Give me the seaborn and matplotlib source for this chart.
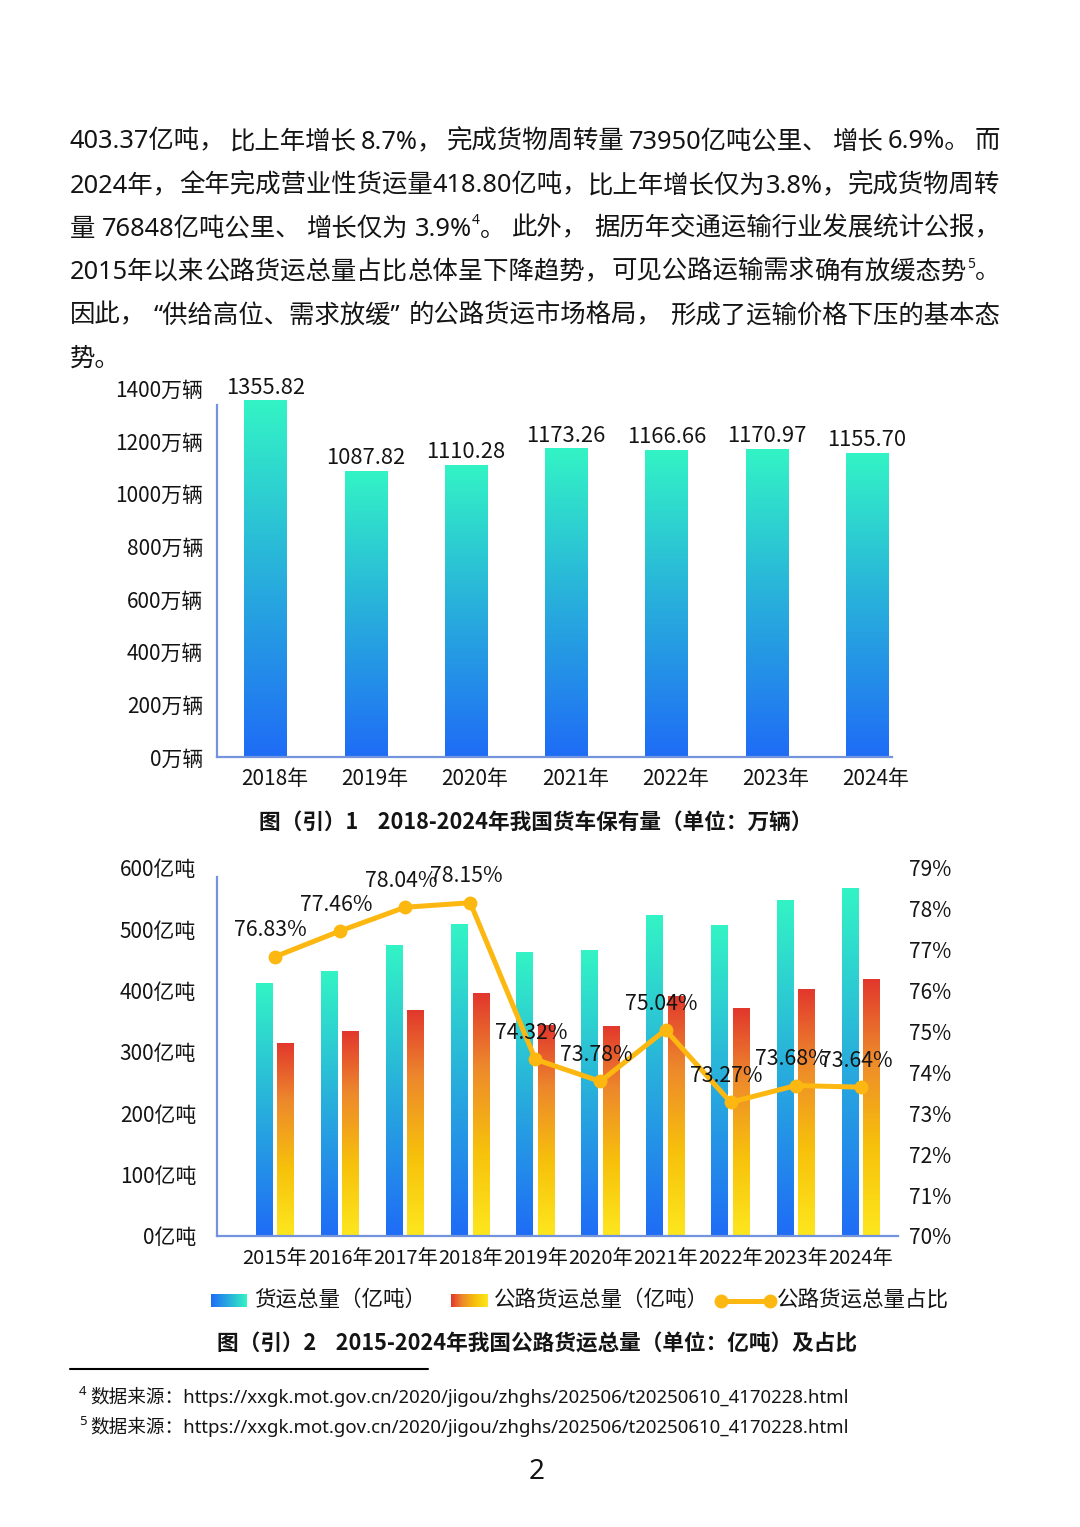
import numpy as np
import pandas as pd
import matplotlib.pyplot as plt
import seaborn as sns
from matplotlib.colors import LinearSegmentedColormap
from matplotlib.transforms import ScaledTranslation

sns.set_style("white")
plt.rcParams['font.family'] = ['Noto Sans CJK SC', 'DejaVu Sans']
plt.rcParams['axes.unicode_minus'] = False
MIXED = ['Noto Sans', 'Noto Sans CJK SC', 'DejaVu Sans']

# ---- dane ----
truck_years = ['2018年', '2019年', '2020年', '2021年', '2022年', '2023年', '2024年']
truck_stock = [1355.82, 1087.82, 1110.28, 1173.26, 1166.66, 1170.97, 1155.70]

freight_years = ['2015年', '2016年', '2017年', '2018年', '2019年',
                 '2020年', '2021年', '2022年', '2023年', '2024年']
freight_total = [412, 432, 474, 508, 463, 466, 523, 507, 548, 568]
freight_road = [315.00, 334.13, 368.69, 395.69, 343.55, 342.64, 391.39, 371.19, 403.37, 418.80]
road_share = [76.83, 77.46, 78.04, 78.15, 74.32, 73.78, 75.04, 73.27, 73.68, 73.64]

truck_ticks = list(range(0, 1401, 200))
ton_ticks = list(range(0, 601, 100))
pct_ticks = list(range(70, 80))

# ---- kolory ----
TEXT = '#141414'
SPINE = '#7393dd'
LINE = '#fcb711'
blue_cmap = LinearSegmentedColormap.from_list('blue', ['#1f6cf6', '#28aedc', '#33f4c5'])
orange_cmap = LinearSegmentedColormap.from_list(
    'orange', [(0, '#fde71e'), (0.35, '#f7c10b'), (0.7, '#ed882c'), (1, '#e2372d')])

W, H = 1080, 1527
fig = plt.figure(figsize=(W / 100, H / 100), dpi=100)
fig.patch.set_facecolor('white')


def box(x0, y0, x1, y1):
    return [x0 / W, 1 - y1 / H, (x1 - x0) / W, (y1 - y0) / H]


def gradient_bars(ax, cmap_for):
    grad = np.linspace(0, 1, 256).reshape(-1, 1)
    for p in list(ax.patches):
        cmap = cmap_for(p)
        x0, y0, w, h = p.get_x(), p.get_y(), p.get_width(), p.get_height()
        p.set_facecolor('none')
        p.set_edgecolor('none')
        im = ax.imshow(grad, extent=[x0, x0 + w, y0, y0 + h], origin='lower',
                       aspect='auto', cmap=cmap, interpolation='bicubic', zorder=2)
        im.set_clip_path(p)


def style_axis(ax, ybounds):
    for s in ['top', 'right']:
        ax.spines[s].set_visible(False)
    for s in ['left', 'bottom']:
        ax.spines[s].set_color(SPINE)
        ax.spines[s].set_linewidth(1.6)
    ax.spines['left'].set_bounds(*ybounds)
    ax.set_xlabel('')
    ax.set_ylabel('')
    ax.grid(False)


# ---- wykres 1: 货车保有量 ----
ax1 = fig.add_axes(box(217, 388.4, 892, 757))
df1 = pd.DataFrame({'年份': truck_years, '保有量': truck_stock})
sns.barplot(data=df1, x='年份', y='保有量', ax=ax1, color='#1f6cf6',
            width=0.42, saturation=1, errorbar=None)
ax1.bar_label(ax1.containers[0], fmt='%.2f', padding=1, fontsize=15.8, color=TEXT)
gradient_bars(ax1, lambda p: blue_cmap)
ax1.set_xlim(-0.484, 6.25)
ax1.set_ylim(0, 1400)
ax1.set_yticks(truck_ticks)
ax1.set_yticklabels([f'{v}万辆' for v in truck_ticks])
style_axis(ax1, (0, 1337))
ax1.tick_params(axis='both', length=0, labelsize=15, labelcolor=TEXT)
ax1.tick_params(axis='y', pad=10)
ax1.tick_params(axis='x', pad=8)
shift = ScaledTranslation(0.09, 0, fig.dpi_scale_trans)
for lab in ax1.get_xticklabels():
    lab.set_transform(lab.get_transform() + shift)

# ---- wykres 2: 货运总量 ----
ax2 = fig.add_axes(box(217, 868, 898, 1236))
df2 = pd.DataFrame({
    '年份': freight_years * 2,
    '货运量': freight_total + freight_road,
    '类别': ['货运总量（亿吨）'] * len(freight_years) + ['公路货运总量（亿吨）'] * len(freight_years),
})
sns.barplot(data=df2, x='年份', y='货运量', hue='类别', ax=ax2,
            palette={'货运总量（亿吨）': '#1f6cf6', '公路货运总量（亿吨）': '#e2372d'},
            width=0.66, gap=0.21, saturation=1, errorbar=None, legend=False)


def pick_cmap(p):
    r, g, b, a = p.get_facecolor()
    return orange_cmap if r > 0.5 else blue_cmap


gradient_bars(ax2, pick_cmap)
ax2.set_xlim(-0.89, 9.57)
ax2.set_ylim(0, 600)
ax2.set_yticks(ton_ticks)
ax2.set_yticklabels([f'{v}亿吨' for v in ton_ticks])
style_axis(ax2, (0, 585))
ax2.tick_params(axis='both', length=0, labelsize=15, labelcolor=TEXT)
ax2.tick_params(axis='y', pad=15)
ax2.tick_params(axis='x', pad=9, labelsize=14.5)

axr = ax2.twinx()
sns.lineplot(x=freight_years, y=road_share, ax=axr, color=LINE, linewidth=3.6,
             marker='o', markersize=10, markeredgewidth=0, sort=False)
axr.set_ylim(70, 79)
axr.set_yticks(pct_ticks)
axr.set_yticklabels([f'{v}%' for v in pct_ticks])
axr.set_xlim(-0.89, 9.57)
for s in axr.spines.values():
    s.set_visible(False)
axr.set_ylabel('')
axr.tick_params(axis='y', length=0, labelsize=15, labelcolor=TEXT, pad=8)
for i, v in enumerate(road_share):
    axr.annotate(f'{v:.2f}%', xy=(i, v), xytext=(-3, 19), textcoords='offset points',
                 ha='center', va='center', fontsize=15.3, color=TEXT)

# ---- strona: tekst, podpisy, legenda ----
page = fig.add_axes([0, 0, 1, 1])
page.set_zorder(-1)
page.set_autoscale_on(False)
page.set_xlim(0, W)
page.set_ylim(H, 0)
page.axis('off')
page.patch.set_visible(False)
renderer = fig.canvas.get_renderer()

# '|' = miejsce na wyrównanie, '^n' = indeks górny
paragraph = [
    '403.37亿吨，|比上年增长|8.7%，|完成货物周转量|73950亿吨公里、|增长|6.9%。|而',
    '2024年，|全年完成营业性货运量|418.80亿吨，|比上年增长仅为|3.8%，|完成货物周转',
    '量|76848亿吨公里、|增长仅为|3.9%^4。|此外，|据历年交通运输行业发展统计公报，',
    '2015年以来|公路货运总量占比|总体呈下降趋势，|可见公路运输需求|确有放缓态势^5。',
    '因此，|“供给高位、需求放缓”|的公路货运市场格局，|形成了运输价格下压的基本态',
    '势。',
]
line_base = [148.5, 192.5, 235.5, 278.5, 322.5, 365.5]
BODY, SUP = 18.3, 10


def split_group(g):
    parts = []
    while '^' in g:
        head, rest = g.split('^', 1)
        if head:
            parts.append((head, 0))
        parts.append((rest[0], 1))
        g = rest[1:]
    if g:
        parts.append((g, 0))
    return parts


def text_width(s, size):
    t = page.text(0, 0, s, fontsize=size, family=MIXED)
    w = t.get_window_extent(renderer).width
    t.remove()
    return w


for line, yb in zip(paragraph, line_base):
    groups = [split_group(g) for g in line.split('|')]
    widths = [sum(text_width(s, SUP if sup else BODY) for s, sup in g) for g in groups]
    if len(groups) > 1:
        gap = (1000 - 70 - sum(widths)) / (len(groups) - 1)
    else:
        gap = 0
    x = 70
    for g in groups:
        for s, sup in g:
            size = SUP if sup else BODY
            page.text(x, yb - (11 if sup else 0), s, fontsize=size, family=MIXED,
                      ha='left', va='baseline', color=TEXT)
            x += text_width(s, size)
        x += gap

page.text(536, 822, '图（引）1    2018-2024年我国货车保有量（单位：万辆）', fontsize=15.6,
          fontweight='bold', ha='center', va='center', color=TEXT)
page.text(537, 1344, '图（引）2    2015-2024年我国公路货运总量（单位：亿吨）及占比', fontsize=15.6,
          fontweight='bold', ha='center', va='center', color=TEXT)

# legenda
hgrad = np.linspace(0, 1, 256).reshape(1, -1)
page.imshow(hgrad, extent=[211, 247, 1307, 1294], aspect='auto', cmap=blue_cmap)
page.imshow(hgrad[:, ::-1], extent=[451, 488, 1307, 1294], aspect='auto', cmap=orange_cmap)
page.plot([721, 770], [1300.5, 1300.5], color=LINE, lw=3.6, marker='o', ms=10, mew=0)
page.text(254, 1300, '货运总量（亿吨）', fontsize=15.5, ha='left', va='center', color=TEXT)
page.text(494, 1300, '公路货运总量（亿吨）', fontsize=15.5, ha='left', va='center', color=TEXT)
page.text(777, 1300, '公路货运总量占比', fontsize=15.5, ha='left', va='center', color=TEXT)
page.set_xlim(0, W)
page.set_ylim(H, 0)

# przypisy
page.plot([70, 428], [1369, 1369], color='black', lw=1.5)
url = 'https://xxgk.mot.gov.cn/2020/jigou/zhghs/202506/t20250610_4170228.html'
for n, yb in [('4', 1403), ('5', 1433)]:
    page.text(79, yb - 8, n, fontsize=9.5, family=MIXED, ha='left', va='baseline', color=TEXT)
    page.text(90, yb, '数据来源：' + url, fontsize=13.4, family=MIXED,
              ha='left', va='baseline', color=TEXT)

page.text(537, 1472, '2', fontsize=20, family=MIXED, ha='center', va='center', color=TEXT)

fig.savefig('out.png', dpi=100, facecolor='white')
